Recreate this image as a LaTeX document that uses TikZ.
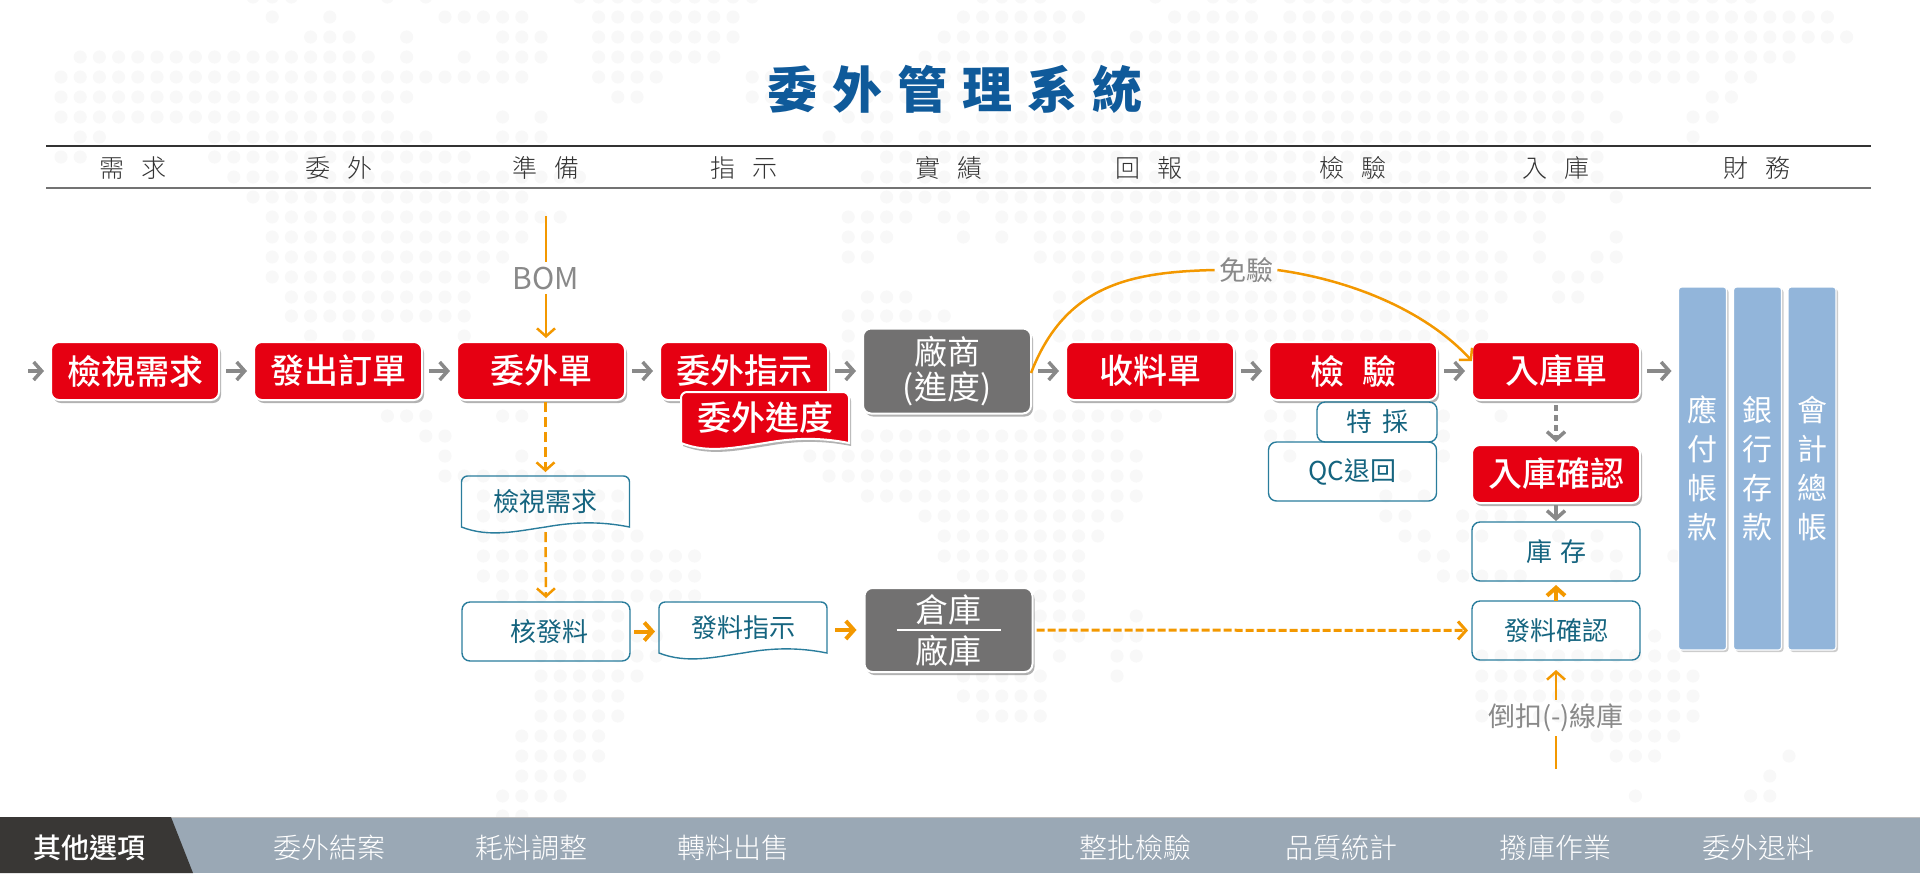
\documentclass[tikz,border=0pt]{standalone}
\usepackage{fontspec}
\setmainfont{Noto Sans CJK TC}
\newfontfamily\lightcjk{Noto Sans CJK TC Light}
\newfontfamily\mediumcjk{Noto Sans CJK TC Medium}
\usepackage{xcolor}
\usetikzlibrary{positioning, arrows.meta, shadows}

\definecolor{flowred}{HTML}{E60012}
\definecolor{flowgrey}{HTML}{727171}
\definecolor{arrowgrey}{HTML}{898989}
\definecolor{floworange}{HTML}{F39800}
\definecolor{flowteal}{HTML}{2A7D9C}
\definecolor{tealtext}{HTML}{15647F}
\definecolor{titleblue}{HTML}{0F5A9A}
\definecolor{barblue}{HTML}{92B5DA}
\definecolor{footgrey}{HTML}{9AA8B5}
\definecolor{footdark}{HTML}{393735}
\definecolor{mapdot}{HTML}{F8F8F8}

\newcommand{\hgap}{\hspace{8.5pt}}
\newcommand{\docpath}[1]{(#1.south west) [rounded corners=3pt] -- (#1.north west) -- (#1.north east) [sharp corners] -- (#1.south east) .. controls +(-30,-6) and +(28,-5) .. (#1.south) .. controls +(-28,4) and +(28,11) .. (#1.south west) -- cycle}

\tikzset{
    boxshadow/.style={drop shadow={shadow xshift=1pt, shadow yshift=-1.5pt, fill=black!60, opacity=0.5}},
    redbox/.style={rectangle, rounded corners=4pt, fill=flowred, draw=white, line width=1pt, boxshadow, text=white, minimum width=84pt, minimum height=29pt, outer sep=0pt, inner sep=0pt, font=\mediumcjk\fontsize{17}{19}\selectfont},
    greybox/.style={redbox, fill=flowgrey, minimum height=42.5pt, align=center, font=\fontsize{16.5}{17.5}\selectfont},
    tealbox/.style={rectangle, rounded corners=4pt, draw=flowteal, line width=0.7pt, text=tealtext, minimum width=84pt, minimum height=29.5pt, outer sep=0pt, inner sep=0pt, font=\fontsize{13}{15}\selectfont},
    docbox/.style={rectangle, text=tealtext, minimum width=84pt, minimum height=25.5pt, outer sep=0pt, inner sep=0pt, font=\fontsize{13}{15}\selectfont},
    docline/.style={draw=flowteal, line width=0.7pt},
    bluebar/.style={rectangle, rounded corners=1.5pt, fill=barblue, draw=white, line width=0.6pt, drop shadow={shadow xshift=1pt, shadow yshift=-1pt, fill=black!50, opacity=0.4}, text=white, minimum width=24pt, minimum height=181.5pt, outer sep=0pt, inner sep=0pt, align=center, font=\fontsize{15}{19.4}\selectfont},
    headtext/.style={text=black!80, inner sep=0pt, font=\lightcjk\fontsize{12.5}{14}\selectfont},
    notetext/.style={text=arrowgrey, inner sep=2pt, font=\fontsize{13.5}{15}\selectfont},
    foottext/.style={text=white, inner sep=0pt, font=\lightcjk\fontsize{14}{16}\selectfont},
    greyarrow/.style={->, color=arrowgrey, line width=1.75pt, shorten >=3.5pt, shorten <=3.5pt},
    orangearrow/.style={->, color=floworange, line width=1.25pt},
    boldarrow/.style={->, color=floworange, line width=2pt, shorten >=2pt, shorten <=2pt},
}

\begin{document}
\begin{tikzpicture}[x=0.5pt, y=-0.5pt, >={Straight Barb[length=4pt, width=9pt]}]
    \useasboundingbox (0,0) rectangle (1920,873);

    \foreach \ypos/\kfrom/\kto in {
        -3/10/12, -3/17/17, -3/19/19, -3/27/36, -3/48/51, -3/57/57, -3/60/62, -3/64/88,
        17/11/11, 17/14/14, 17/20/24, 17/28/35, 17/47/53, 17/58/62, 17/64/92,
        37/13/15, 37/18/18, 37/23/25, 37/28/35, 37/46/52, 37/56/93,
        57/1/16, 57/18/18, 57/21/21, 57/23/25, 57/28/34, 57/45/90,
        77/0/24, 77/28/31, 77/36/85, 77/87/88,
        97/0/18, 97/29/30, 97/36/80, 97/86/87,
        117/0/17, 117/23/23, 117/25/25, 117/41/43, 117/46/46, 117/48/79, 117/81/81, 117/85/86,
        137/1/2, 137/8/19, 137/23/25, 137/40/40, 137/42/43, 137/45/80, 137/85/85,
        157/0/1, 157/8/21, 157/43/80,
        177/9/27, 177/42/80,
        197/10/24, 197/43/46, 197/48/78, 197/81/81,
        217/11/26, 217/41/44, 217/46/47, 217/49/77,
        237/11/24, 237/41/43, 237/47/47, 237/49/49, 237/51/74, 237/77/77, 237/81/81,
        257/11/23, 257/41/42, 257/51/75, 257/77/77, 257/80/81,
        277/11/22, 277/53/75, 277/78/80,
        297/12/21, 297/42/44, 297/52/75, 297/78/79,
        316/12/21, 316/41/46, 316/52/74,
        336/13/13, 336/15/16, 336/21/21, 336/41/41, 336/52/74,
        356/21/21, 356/41/41, 356/53/57, 356/62/62,
        416/17/19, 416/23/24, 416/51/57, 416/63/64, 416/72/72, 416/75/75,
        436/19/20, 436/42/55, 436/63/64, 436/72/72,
        456/20/20, 456/24/24, 456/39/56, 456/64/64, 456/72/72,
        476/20/27, 476/40/56, 476/70/70,
        496/22/29, 496/42/56, 496/69/69, 496/71/71,
        516/22/29, 516/45/55, 516/69/70, 516/73/76,
        536/22/30, 536/46/54, 536/70/71, 536/73/74, 536/76/76, 536/78/78, 536/80/80,
        556/22/33, 556/46/53, 556/71/72, 556/79/81, 556/84/84,
        576/22/33, 576/47/53, 576/72/76, 576/81/81,
        596/23/33, 596/51/53,
        616/24/29, 616/51/53, 616/56/56,
        636/25/31, 636/52/53, 636/55/56, 636/83/83,
        656/25/31, 656/52/52, 656/55/56, 656/74/84,
        676/25/30, 676/47/51, 676/55/55, 676/74/85,
        696/25/29, 696/47/51, 696/74/85,
        716/25/29, 716/48/51, 716/74/85,
        736/24/28, 736/80/84,
        756/24/28, 756/81/83, 756/90/90,
        776/24/27, 776/89/89,
        796/23/26, 796/82/82, 796/88/89,
        816/23/24} {
        \foreach \k in {\kfrom,...,\kto}
            \fill[mapdot] ({61+19.2*\k},\ypos) circle (3.3pt);
    }

    \node[text=titleblue, inner sep=0pt, font=\bfseries\fontsize{25}{28}\selectfont] (title) at (955,89) {委\hspace{7.5pt}外\hspace{7.5pt}管\hspace{7.5pt}理\hspace{7.5pt}系\hspace{7.5pt}統};
    \draw[black!80, line width=1pt] (46,145.5) -- (1871,145.5);
    \draw[black!55, line width=1pt] (46,188) -- (1871,188);

    \node[headtext] (h0) at (133,168) {需\hgap 求};
    \node[headtext] (h1) at (339,168) {委\hgap 外};
    \node[headtext] (h2) at (545.5,168) {準\hgap 備};
    \node[headtext] (h3) at (744,168) {指\hgap 示};
    \node[headtext] (h4) at (948.5,168) {實\hgap 績};
    \node[headtext] (h5) at (1149,168) {回\hgap 報};
    \node[headtext] (h6) at (1353,168) {檢\hgap 驗};
    \node[headtext] (h7) at (1556,168) {入\hgap 庫};
    \node[headtext] (h8) at (1757,168) {財\hgap 務};

    \coordinate (entry) at (21,371);
    \node[redbox] (need) at (135,371) {檢視需求};
    \node[redbox] (po) [right=17.5pt of need] {發出訂單};
    \node[redbox] (order) [right=17.5pt of po] {委外單};
    \node[redbox] (guide) [right=17.5pt of order] {委外指示};
    \node[greybox] (vendor) [right=17.5pt of guide] {廠商\\(進度)};
    \node[redbox] (receive) [right=17.5pt of vendor] {收料單};
    \node[redbox] (inspect) [right=17.5pt of receive] {檢\hspace{9pt}驗};
    \node[redbox] (stockin) [right=17.5pt of inspect] {入庫單};
    \node[redbox] (stockok) at (1556,474) {入庫確認};

    \node[docbox] (progress) at (765,417.5) {};
    \fill[flowred, draw=white, line width=1pt, boxshadow] \docpath{progress};
    \node[text=white, inner sep=0pt, font=\mediumcjk\fontsize{17}{19}\selectfont] (progresstext) at (progress) {委外進度};

    \node[tealbox, minimum width=60pt, minimum height=20pt] (special) at (1377,422) {特\hspace{5pt}採};
    \node[tealbox] (reject) at (1352.5,471.5) {QC退回};
    \node[tealbox] (stock) at (1556,551.5) {庫\hspace{4pt}存};
    \node[tealbox] (issueok) at (1556,630.5) {發料確認};
    \node[tealbox] (issue) at (546,631.5) {\hspace*{3.5pt}核發料};

    \node[docbox] (reqdoc) at (545.5,501.5) {檢視需求};
    \draw[docline] \docpath{reqdoc};
    \node[docbox] (slip) at (743,627.5) {發料指示};
    \draw[docline] \docpath{slip};

    \node[greybox, minimum height=42pt, font=\fontsize{16.5}{20.5}\selectfont] (depot) at (948.5,630) {倉庫\\廠庫};
    \draw[white, line width=1pt] ([xshift=16pt]depot.west) -- ([xshift=-16pt]depot.east);

    \node[bluebar] (payable) at (1702.5,468.5) {應\\付\\帳\\款};
    \node[bluebar] (bank) at (1757.5,468.5) {銀\\行\\存\\款};
    \node[bluebar] (ledger) at (1812,468.5) {會\\計\\總\\帳};

    \node[notetext, font=\fontsize{15}{17}\selectfont] (bom) at (546,278) {BOM};
    \coordinate (bomtop) at (546,216);
    \node[notetext] (free) at (1246,270) {免驗};
    \node[notetext] (deduct) at (1556,718) {倒扣(-)線庫};
    \coordinate (linefeed) at (1556,769);

    \path[greyarrow]
        (entry) edge (need)
        (need) edge (po)
        (po) edge (order)
        (order) edge (guide)
        (guide) edge (vendor)
        (vendor) edge (receive)
        (receive) edge (inspect)
        (inspect) edge (stockin)
        (stockok) edge [shorten >=0.5pt, shorten <=1pt] (stock);
    \draw[greyarrow] (stockin.east) -- (stockin.east -| payable.west);
    \path[greyarrow, dash pattern=on 3pt off 2pt, shorten <=2.5pt, shorten >=1.5pt]
        (stockin) edge (stockok);

    \path[orangearrow]
        (bomtop) edge [-] (bom)
        (bom) edge [shorten >=2pt] (bom |- order.north)
        (reqdoc.north |- order.south) edge [dash pattern=on 5pt off 2.5pt, shorten <=1pt, shorten >=2pt] (reqdoc.north)
        (reqdoc.south) edge [dash pattern=on 5pt off 2.5pt, shorten <=2.5pt, shorten >=2pt] (issue.north)
        (linefeed) edge [-] (deduct)
        (deduct) edge [shorten >=5pt] (issueok.south);

    \draw[orangearrow, -] ([yshift=-1pt]vendor.east) .. controls (1065,285) and (1130,272) .. (free.west);
    \draw[orangearrow] (free.east) .. controls (1350,280) and (1425,310) .. ([yshift=5pt]stockin.west);

    \draw[boldarrow] (issue.east) -- (issue.east -| slip.west);
    \draw[boldarrow, shorten <=4pt, shorten >=4pt] (depot.west -| slip.east) -- (depot.west);
    \draw[boldarrow, shorten <=0pt] (issueok) -- (stock);
    \draw[boldarrow, line width=1.5pt, dash pattern=on 4pt off 1.5pt] (depot) -- (issueok);

    \fill[footgrey] (0,817) rectangle (1920,873);
    \draw[black!25, line width=0.5pt] (0,817) -- (1920,817);
    \fill[footdark] (0,817) -- (171,817) -- (193,873) -- (0,873) -- cycle;
    \node[text=white, inner sep=0pt, font=\mediumcjk\fontsize{14}{16}\selectfont] (other) at (89,848) {其他選項};
    \node[foottext] (f0) at (329,848) {委外結案};
    \node[foottext] (f1) at (531,848) {耗料調整};
    \node[foottext] (f2) at (733,848) {轉料出售};
    \node[foottext] (f3) at (1135,848) {整批檢驗};
    \node[foottext] (f4) at (1341,848) {品質統計};
    \node[foottext] (f5) at (1555,848) {撥庫作業};
    \node[foottext] (f6) at (1758,848) {委外退料};
\end{tikzpicture}
\end{document}
